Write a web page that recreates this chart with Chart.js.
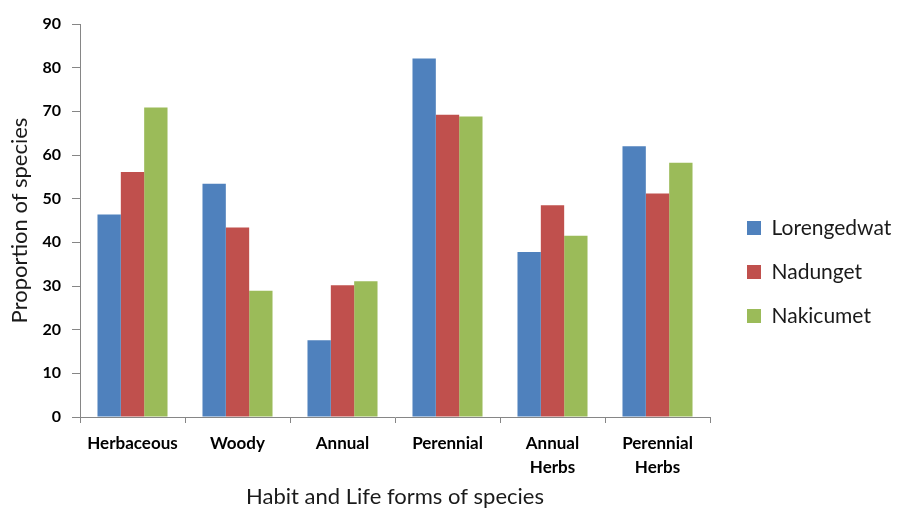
<!DOCTYPE html>
<html>
<head>
<meta charset="utf-8">
<script src="https://cdn.jsdelivr.net/npm/chart.js@4.4.1/dist/chart.umd.min.js"></script>
<style>
  html, body { margin: 0; padding: 0; background: #ffffff; }
  #wrap { width: 900px; height: 510px; position: relative; }
</style>
</head>
<body>
<div id="wrap"><canvas id="chart"></canvas></div>
<script>
// Habit and life forms of species at three sites (proportion of species, %)
const categories = ['Herbaceous', 'Woody', 'Annual', 'Perennial', ['Annual', 'Herbs'], ['Perennial', 'Herbs']];
const lorengedwat = [46.4, 53.4, 17.6, 82.1, 37.8, 62.0];
const nadunget    = [56.1, 43.4, 30.2, 69.2, 48.5, 51.2];
const nakicumet   = [70.9, 28.9, 31.1, 68.8, 41.5, 58.2];
const yTicks = { min: 0, max: 90, step: 10 };

const axisGrey = '#868686';
const baseFont = 'Lato, "Open Sans", sans-serif';

// Fixes the legend column width and nudges it into place beside the plot
const legendPlacer = {
  id: 'legendPlacer',
  beforeLayout(chart) {
    const lg = chart.legend;
    if (lg && !lg._fixedFit) {
      const fit = lg.fit.bind(lg);
      lg.fit = function () { fit(); this.width = 190; };
      lg._fixedFit = true;
    }
  },
  afterLayout(chart) {
    const lg = chart.legend;
    if (!lg) return;
    lg.left += 14; lg.right += 14;
    lg.top += 5; lg.bottom += 5;
  }
};

new Chart(document.getElementById('chart'), {
  type: 'bar',
  data: {
    labels: categories,
    datasets: [
      { label: 'Lorengedwat', data: lorengedwat, backgroundColor: '#4F81BD' },
      { label: 'Nadunget',    data: nadunget,    backgroundColor: '#C0504D' },
      { label: 'Nakicumet',   data: nakicumet,   backgroundColor: '#9BBB59' }
    ]
  },
  options: {
    responsive: true,
    maintainAspectRatio: false,
    animation: false,
    layout: { padding: { top: 24, right: 0, bottom: 0, left: 0 } },
    datasets: { bar: { categoryPercentage: 0.667, barPercentage: 1.0, borderWidth: 0 } },
    plugins: {
      tooltip: { enabled: false },
      legend: {
        position: 'right',
        align: 'center',
        labels: {
          boxWidth: 14,
          boxHeight: 14,
          padding: 23,
          color: '#1a1a1a',
          font: { family: baseFont, size: 21 }
        }
      }
    },
    scales: {
      x: {
        grid: { display: true, drawOnChartArea: false, drawTicks: true, tickLength: 6, color: axisGrey, offset: true },
        border: { display: true, color: axisGrey, width: 1 },
        ticks: {
          color: '#000000',
          padding: 8,
          maxRotation: 0,
          autoSkip: false,
          font: { family: baseFont, size: 17, weight: 'bold', lineHeight: 1.42 }
        },
        title: {
          display: true,
          text: 'Habit and Life forms of species',
          color: '#1a1a1a',
          padding: { top: 0, bottom: 0 },
          font: { family: baseFont, size: 22, lineHeight: 1.2 }
        },
        afterFit(scale) { scale.height = 93; }
      },
      y: {
        min: yTicks.min,
        max: yTicks.max,
        grid: { display: true, drawOnChartArea: false, drawTicks: true, tickLength: 8, color: axisGrey },
        border: { display: true, color: axisGrey, width: 1 },
        ticks: {
          stepSize: yTicks.step,
          color: '#000000',
          padding: 11,
          font: { family: baseFont, size: 16, weight: 'bold' }
        },
        title: {
          display: true,
          text: 'Proportion of species',
          color: '#1a1a1a',
          padding: { top: 7, bottom: 0 },
          font: { family: baseFont, size: 22, lineHeight: 1.2 }
        },
        afterFit(scale) { scale.width = 80; }
      }
    }
  },
  plugins: [legendPlacer]
});
</script>
</body>
</html>
